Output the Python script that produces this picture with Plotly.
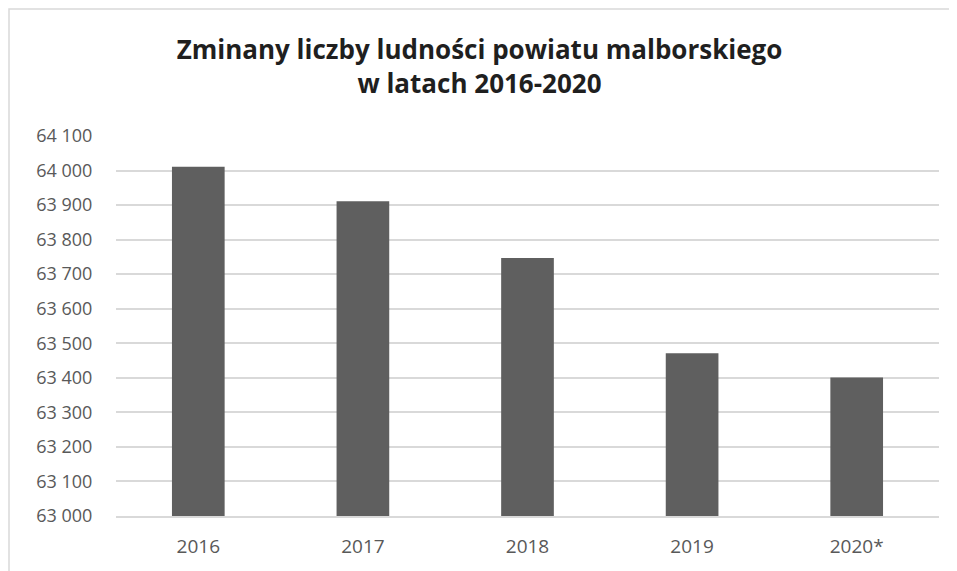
import plotly.graph_objects as go

years = ["2016", "2017", "2018", "2019", "2020*"]
population = [64011, 63911, 63747, 63471, 63401]
y_ticks = [63000, 63100, 63200, 63300, 63400, 63500, 63600, 63700, 63800, 63900, 64000, 64100]

L, R, T, B = 108, 26, 128, 63
pw, ph = 957 - L - R, 571 - T - B

fig = go.Figure(go.Bar(
    x=years, y=population, marker_color="#5f5f5f",
    marker_line_width=0, hoverinfo="skip",
))

fig.update_layout(
    width=957, height=571,
    paper_bgcolor="white", plot_bgcolor="white",
    separators=", ",
    margin=dict(l=L, r=R, t=T, b=B),
    bargap=0.68,
    showlegend=False,
    title=dict(
        text="Zminany liczby ludności powiatu malborskiego<br>w latach 2016-2020",
        x=0.4927, xanchor="center", y=0.911, yanchor="top",
        font=dict(family="Open Sans, Liberation Sans, sans-serif", size=26, color="#1f1f1f", weight="bold"),
    ),
    font=dict(family="Open Sans, Liberation Sans, sans-serif", size=18, color="#595959"),
    xaxis=dict(showgrid=False, showline=True, linecolor="#d9d9d9", linewidth=1.5, ticks="",
               tickfont=dict(size=19), ticklabelstandoff=12),
    yaxis=dict(range=[63000, 64100], tickvals=y_ticks, tickformat=",d",
               showgrid=True, gridcolor="#d9d9d9", gridwidth=1.5, zeroline=False,
               ticks="outside", ticklen=19, tickcolor="white", tickfont=dict(size=18)),
    shapes=[dict(type="rect", xref="paper", yref="paper",
                 x0=(1 - L) / pw, x1=1 + (R + 20) / pw,
                 y0=-(B + 20) / ph, y1=1 + (T - 1) / ph,
                 line=dict(color="#d9d9d9", width=1.5), fillcolor="rgba(0,0,0,0)", layer="below")],
)

fig.write_html("out.html")
